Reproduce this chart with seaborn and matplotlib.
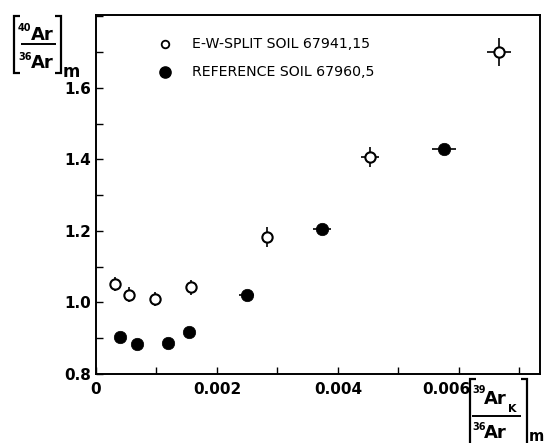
import matplotlib
matplotlib.use("Agg")
import matplotlib.pyplot as plt
from matplotlib.ticker import MultipleLocator
from matplotlib.lines import Line2D
from matplotlib.transforms import ScaledTranslation
import seaborn as sns
import pandas as pd

# E-W-split soil 67941,15 (open circles)
ew_x = [0.00031, 0.00055, 0.00098, 0.00157, 0.00282, 0.00453, 0.00666]
ew_y = [1.052, 1.022, 1.010, 1.042, 1.183, 1.406, 1.700]
ew_xerr = [0.0, 0.0, 0.0, 0.0, 0.0, 0.00015, 0.0002]
ew_yerr = [0.02, 0.02, 0.02, 0.02, 0.028, 0.028, 0.04]

# Reference soil 67960,5 (filled circles)
ref_x = [0.00040, 0.00067, 0.00119, 0.00153, 0.00249, 0.00373, 0.00575]
ref_y = [0.904, 0.883, 0.886, 0.917, 1.022, 1.205, 1.429]
ref_xerr = [0.0, 0.0, 0.0, 0.0, 0.00013, 0.00015, 0.0002]

labels = ["E-W-SPLIT SOIL 67941,15", "REFERENCE SOIL 67960,5"]
x_ticks = [0, 0.002, 0.004, 0.006]
x_ticklabels = ["0", "0.002", "0.004", "0.006"]
y_ticks = [0.8, 1.0, 1.2, 1.4, 1.6]
y_ticklabels = ["0.8", "1.0", "1.2", "1.4", "1.6"]

sns.set_theme(style="ticks")
plt.rcParams['font.family'] = ['DejaVu Sans']
plt.rcParams.update({'text.color': 'black', 'axes.labelcolor': 'black',
                     'xtick.color': 'black', 'ytick.color': 'black',
                     'axes.edgecolor': 'black'})

W, H = 545, 443
fig = plt.figure(figsize=(W / 100, H / 100), dpi=100)
ax = fig.add_axes([96 / W, 1 - 374 / H, (540 - 96) / W, (374 - 15) / H])

df_ew = pd.DataFrame({"x": ew_x, "y": ew_y})
df_ref = pd.DataFrame({"x": ref_x, "y": ref_y})

ax.errorbar(ew_x, ew_y, xerr=ew_xerr, yerr=ew_yerr, fmt='none',
            ecolor='black', elinewidth=1.2, capsize=0, zorder=2)
ax.errorbar(ref_x, ref_y, xerr=ref_xerr, fmt='none',
            ecolor='black', elinewidth=1.2, capsize=0, zorder=2)
sns.scatterplot(data=df_ew, x="x", y="y", ax=ax, marker='o', s=55,
                facecolor='white', edgecolor='black', linewidth=1.5, zorder=3)
sns.scatterplot(data=df_ref, x="x", y="y", ax=ax, marker='o', s=80,
                color='black', edgecolor='black', linewidth=0.5, zorder=3)

ax.set_xlim(0, 0.00734)
ax.set_ylim(0.8, 1.804)
ax.set_xticks(x_ticks)
ax.set_xticklabels(x_ticklabels)
ax.set_yticks(y_ticks)
ax.set_yticklabels(y_ticklabels)
ax.xaxis.set_minor_locator(MultipleLocator(0.001))
ax.yaxis.set_minor_locator(MultipleLocator(0.1))
ax.tick_params(which='both', direction='in', length=5, width=1.0,
               labelsize=11, top=False, right=False, colors='black')
ax.tick_params(axis='x', pad=6)
for lab in ax.get_xticklabels() + ax.get_yticklabels():
    lab.set_fontweight('bold')
    lab.set_color('black')
# shift the last x tick label left to leave room for the axis label
last = ax.get_xticklabels()[-1]
last.set_transform(last.get_transform() +
                   ScaledTranslation(-0.13, 0, fig.dpi_scale_trans))
ax.set_xlabel("")
ax.set_ylabel("")
for sp in ax.spines.values():
    sp.set_visible(True)
    sp.set_linewidth(1.4)
    sp.set_color('black')

# legend (manual)
ax.scatter([0.00114], [1.723], s=30, facecolor='white', edgecolor='black',
           linewidth=1.3, clip_on=False, zorder=4)
ax.scatter([0.00114], [1.645], s=65, color='black', clip_on=False, zorder=4)
ax.text(0.00159, 1.723, labels[0], fontsize=10.2, va='center', ha='left',
        color='black')
ax.text(0.00159, 1.645, labels[1], fontsize=10.2, va='center', ha='left',
        color='black')


# helpers in figure pixel coordinates (from top-left)
def fx(px):
    return px / W


def fy(py):
    return 1 - py / H


def pline(xs, ys, lw=1.6):
    fig.add_artist(Line2D([fx(v) for v in xs], [fy(v) for v in ys],
                          transform=fig.transFigure, color='black', lw=lw,
                          solid_joinstyle='miter', solid_capstyle='butt'))


def ptext(px, py, s, size, ha='left', va='baseline'):
    fig.text(fx(px), fy(py), s, fontsize=size, fontweight='bold',
             ha=ha, va=va, color='black')


# y-axis label: [40Ar / 36Ar]_m
pline([20, 14, 14, 20], [16, 16, 73, 73])
pline([55, 61, 61, 55], [16, 16, 73, 73])
ptext(18, 31, "40", 7)
ptext(31, 40, "Ar", 13)
pline([21, 56], [44, 44], lw=1.4)
ptext(18, 60, "36", 7)
ptext(31, 68, "Ar", 13)
ptext(63, 77, "m", 12)

# x-axis label: [39ArK / 36Ar]_m
pline([476, 470, 470], [379, 379, 445])
pline([521, 527, 527], [379, 379, 445])
ptext(472, 393, "39", 7)
ptext(484, 404, "Ar", 13)
ptext(508, 412, "K", 8)
pline([472, 521], [416, 416], lw=1.4)
ptext(472, 430, "36", 7)
ptext(484, 438, "Ar", 13)
ptext(529, 441, "m", 10.5)

fig.savefig("out.png", dpi=100)
